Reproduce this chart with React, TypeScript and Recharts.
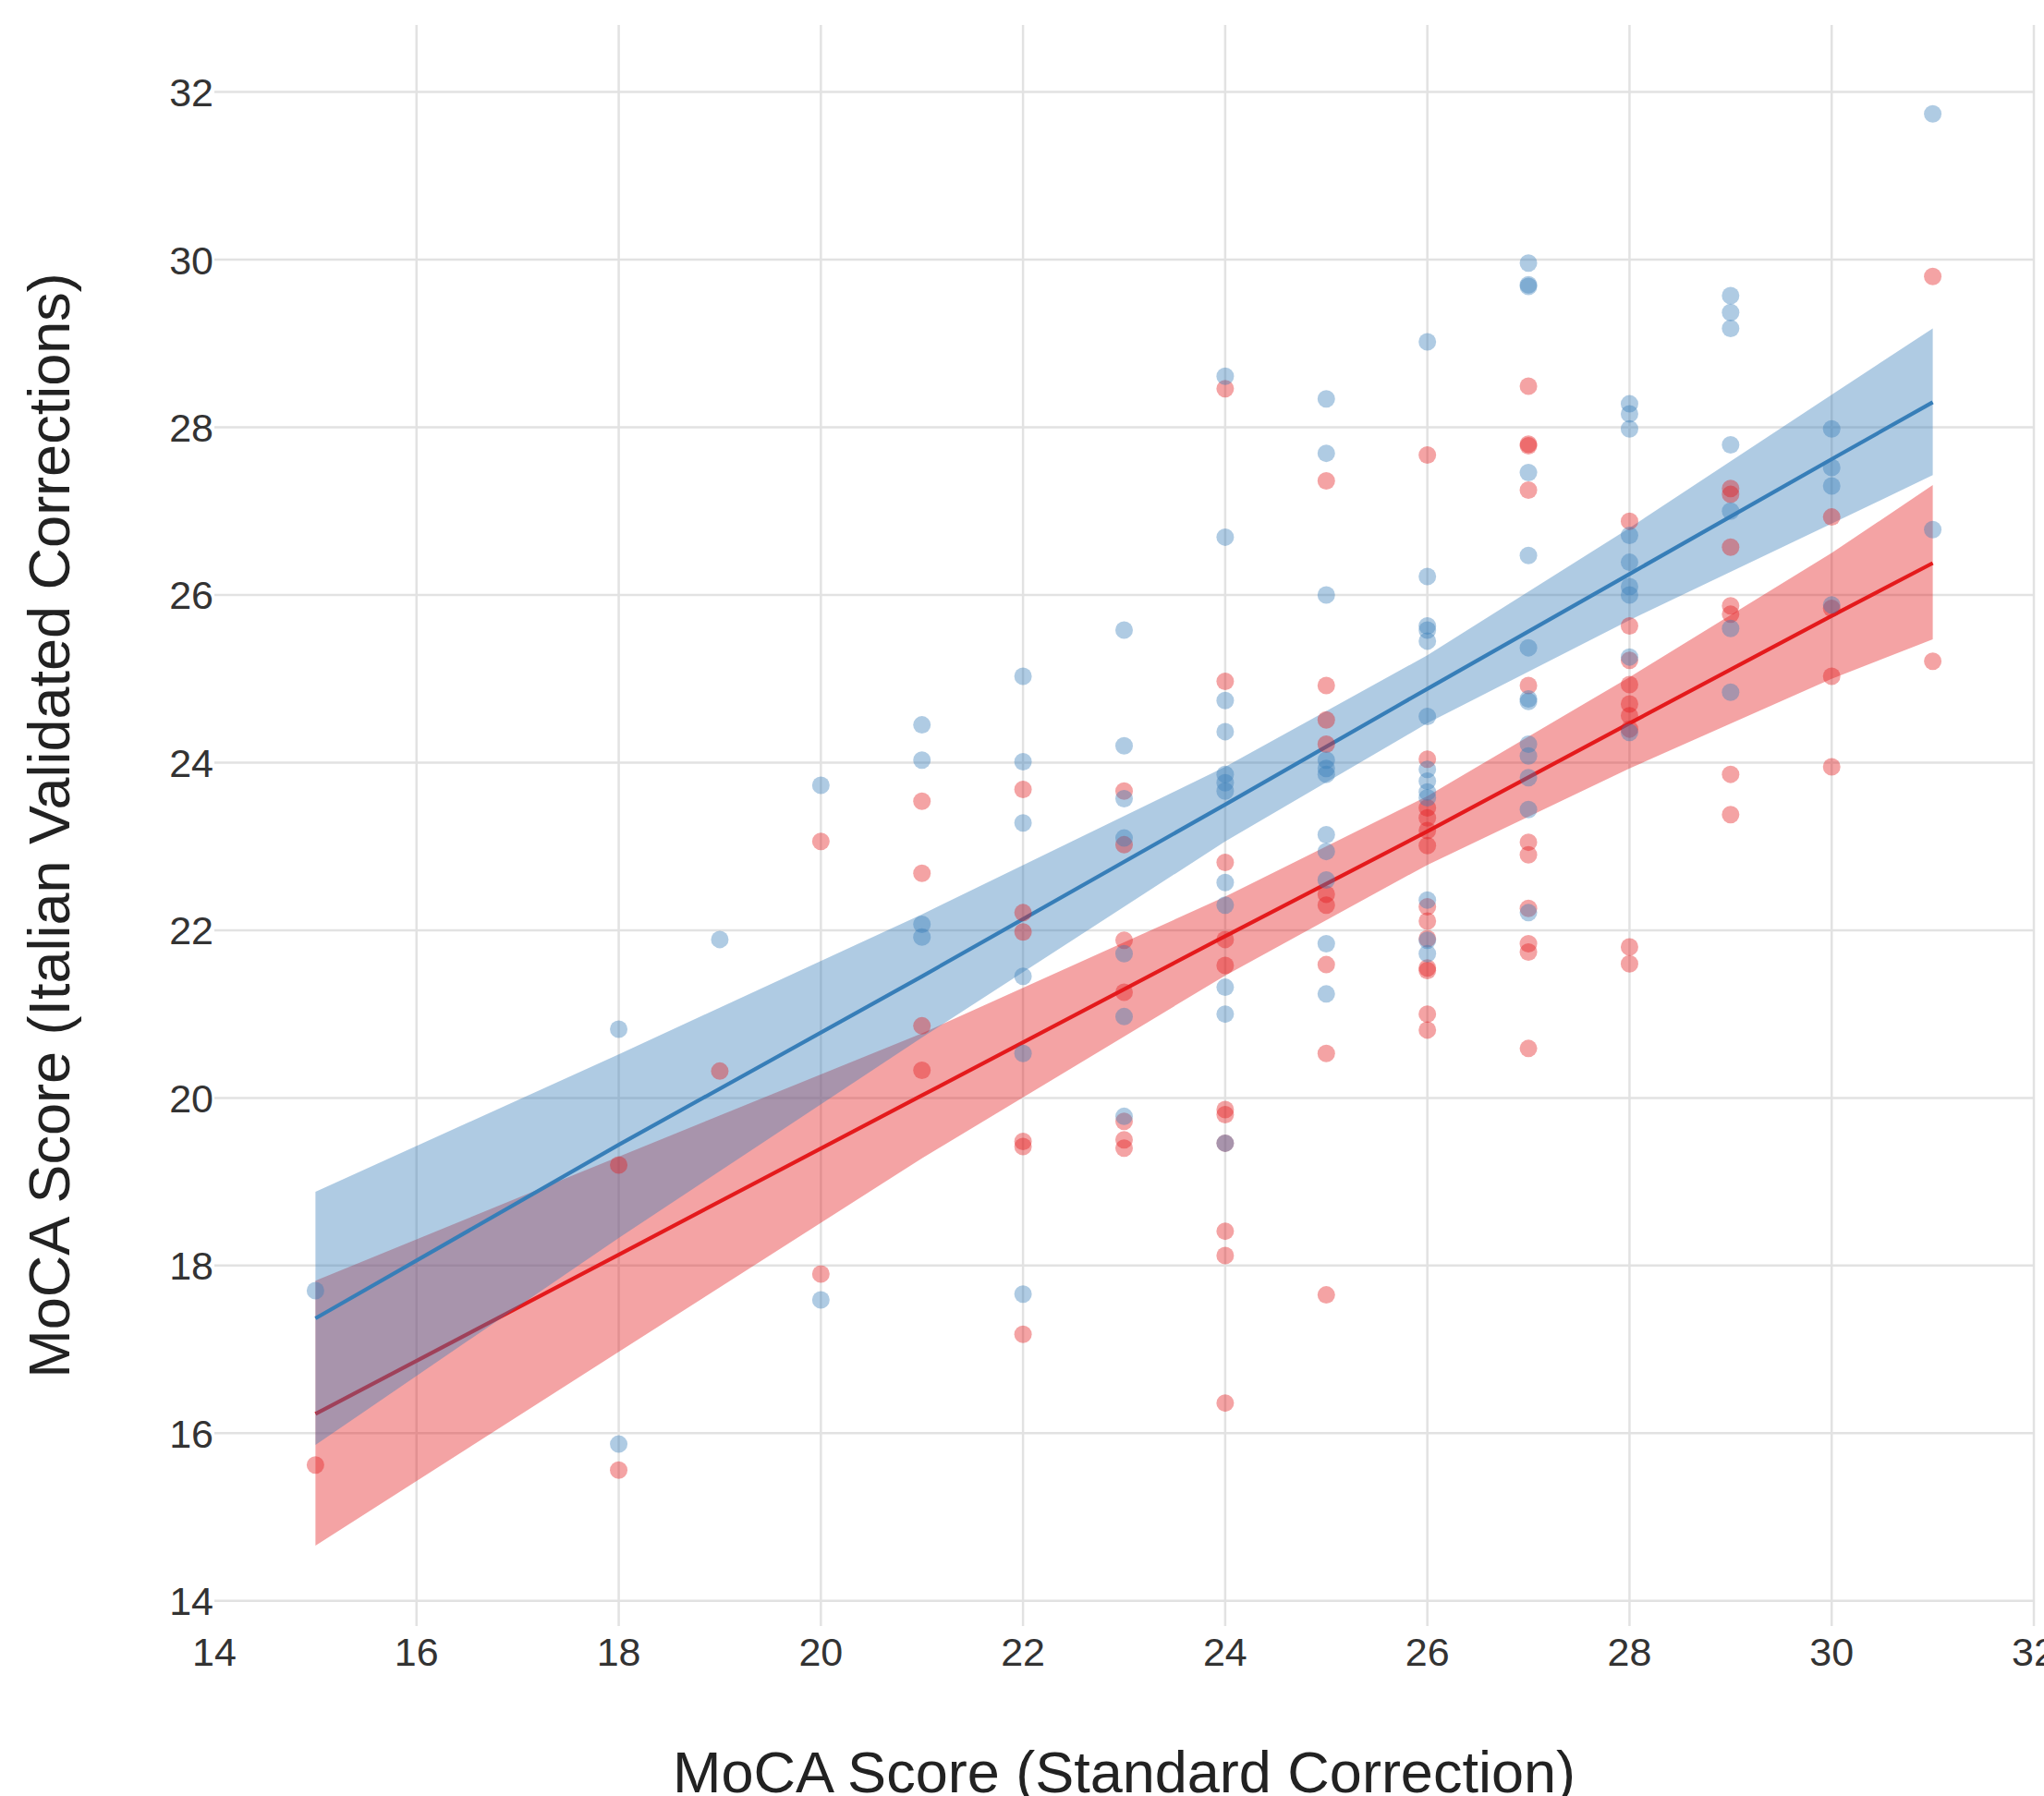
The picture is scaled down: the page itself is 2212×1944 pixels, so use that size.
import React from 'react';
import { ComposedChart, XAxis, YAxis, CartesianGrid, Area, Line, Scatter, Label } from 'recharts';

const BLUE = '#377eb8';
const RED = '#e41a1c';
const FONT = '"Liberation Sans", Arial, sans-serif';

const xTicks = [14, 16, 18, 20, 22, 24, 26, 28, 30, 32];
const yTicks = [14, 16, 18, 20, 22, 24, 26, 28, 30, 32];

const fitX = [15, 18, 21, 24, 26, 28, 30, 31];
const blueFit = [17.37, 19.44, 21.45, 23.5, 24.88, 26.25, 27.62, 28.3];
const blueLower = [15.86, 18.33, 20.72, 23.06, 24.47, 25.7, 26.85, 27.43];
const blueUpper = [18.88, 20.52, 22.19, 23.95, 25.28, 26.8, 28.39, 29.18];
const redFit = [16.23, 18.13, 20.03, 21.93, 23.18, 24.47, 25.75, 26.38];
const redLower = [14.66, 16.97, 19.28, 21.46, 22.78, 23.93, 25.0, 25.47];
const redUpper = [17.82, 19.3, 20.77, 22.4, 23.6, 25.02, 26.5, 27.31];

const bluePoints: [number, number][] = [
  [15, 17.7],
  [18, 20.82], [18, 15.87],
  [19, 21.89],
  [20, 23.73], [20, 17.59],
  [21, 24.45], [21, 24.03], [21, 22.07], [21, 21.92],
  [22, 25.03], [22, 24.01], [22, 23.28], [22, 21.45], [22, 20.53], [22, 17.66],
  [23, 25.58], [23, 24.2], [23, 23.57], [23, 23.1], [23, 21.72], [23, 20.97], [23, 19.78],
  [24, 28.61], [24, 26.69], [24, 24.74], [24, 24.37], [24, 23.86], [24, 23.76], [24, 23.66], [24, 22.57], [24, 22.3], [24, 21.32], [24, 21.0], [24, 19.46],
  [25, 28.34], [25, 27.69], [25, 26.0], [25, 24.03], [25, 23.93], [25, 23.86], [25, 23.14], [25, 22.94], [25, 22.6], [25, 21.84], [25, 21.24],
  [26, 29.02], [26, 26.22], [26, 25.63], [26, 25.58], [26, 25.45], [26, 24.55], [26, 23.92], [26, 23.78], [26, 23.65], [26, 23.58], [26, 22.36], [26, 21.88], [26, 21.72],
  [27, 29.96], [27, 29.7], [27, 29.68], [27, 27.46], [27, 26.47], [27, 25.37], [27, 24.76], [27, 24.73], [27, 24.22], [27, 24.08], [27, 23.82], [27, 23.44], [27, 22.21],
  [28, 28.28], [28, 28.16], [28, 27.98], [28, 26.71], [28, 26.39], [28, 26.1], [28, 26.0], [28, 25.26], [28, 24.36],
  [29, 29.57], [29, 29.37], [29, 29.18], [29, 27.79], [29, 27.0], [29, 25.6], [29, 24.84],
  [30, 27.98], [30, 27.52], [30, 27.3], [30, 25.88],
  [31, 31.74], [31, 26.78],
];

const redPoints: [number, number][] = [
  [15, 15.62],
  [18, 19.2], [18, 15.56],
  [19, 20.32],
  [20, 23.06], [20, 17.9],
  [21, 23.54], [21, 22.68], [21, 20.86], [21, 20.33],
  [22, 23.68], [22, 22.21], [22, 21.98], [22, 19.48], [22, 19.42], [22, 17.18],
  [23, 23.66], [23, 23.02], [23, 21.88], [23, 21.26], [23, 19.72], [23, 19.5], [23, 19.4],
  [24, 28.46], [24, 24.97], [24, 22.81], [24, 21.89], [24, 21.58], [24, 19.86], [24, 19.8], [24, 19.46], [24, 18.41], [24, 18.12], [24, 16.36],
  [25, 27.36], [25, 24.92], [25, 24.51], [25, 24.22], [25, 22.43], [25, 22.3], [25, 21.59], [25, 20.53], [25, 17.65],
  [26, 27.67], [26, 24.04], [26, 23.46], [26, 23.34], [26, 23.19], [26, 23.01], [26, 22.28], [26, 22.11], [26, 21.9], [26, 21.55], [26, 21.52], [26, 21.0], [26, 20.81],
  [27, 28.49], [27, 27.8], [27, 27.78], [27, 27.25], [27, 24.92], [27, 23.05], [27, 22.9], [27, 22.26], [27, 21.84], [27, 21.74], [27, 20.59],
  [28, 26.88], [28, 25.63], [28, 25.22], [28, 24.93], [28, 24.7], [28, 24.56], [28, 24.4], [28, 21.8], [28, 21.6],
  [29, 27.27], [29, 27.2], [29, 26.57], [29, 25.87], [29, 25.77], [29, 23.86], [29, 23.38],
  [30, 26.93], [30, 25.84], [30, 25.03], [30, 23.95],
  [31, 29.8], [31, 25.21],
];

const X_TITLE = 'MoCA Score (Standard Correction)';
const Y_TITLE = 'MoCA Score (Italian Validated Corrections)';

const blueBandData = fitX.map((x, i) => ({ x, band: [blueLower[i], blueUpper[i]] }));
const redBandData = fitX.map((x, i) => ({ x, band: [redLower[i], redUpper[i]] }));
const blueFitData = fitX.map((x, i) => ({ x, y: blueFit[i] }));
const redFitData = fitX.map((x, i) => ({ x, y: redFit[i] }));
const blueScatter = bluePoints.map(([x, y]) => ({ x, y }));
const redScatter = redPoints.map(([x, y]) => ({ x, y }));

const XTick = (props: any) => {
  const { x, y, payload } = props;
  return (
    <text x={x} y={y} dy={43} textAnchor="middle" fontSize={43} fontFamily={FONT} fill="#333">
      {payload.value}
    </text>
  );
};

const YTick = (props: any) => {
  const { x, y, payload } = props;
  return (
    <text x={x - 1} y={y} dy={15.5} textAnchor="end" fontSize={43} fontFamily={FONT} fill="#333">
      {payload.value}
    </text>
  );
};

const XTitle = (props: any) => {
  const vb = props.viewBox;
  return (
    <text x={vb.x + vb.width / 2} y={vb.y + 180} textAnchor="middle" fontSize={63} fontFamily={FONT} fill="#222">
      {X_TITLE}
    </text>
  );
};

const YTitle = (props: any) => {
  const vb = props.viewBox;
  const cx = 75;
  const cy = vb.y + vb.height / 2;
  return (
    <text x={cx} y={cy} transform={`rotate(-90, ${cx}, ${cy})`} textAnchor="middle" fontSize={63} fontFamily={FONT} fill="#222">
      {Y_TITLE}
    </text>
  );
};

const dot = (color: string) => (p: any) => (
  <circle cx={p.cx} cy={p.cy} r={9.5} fill={color} fillOpacity={0.4} />
);

export default function App() {
  return (
    <div style={{ position: 'absolute', left: 0, top: 0, background: '#fff' }}>
      <ComposedChart width={2212} height={1944} margin={{ top: 27, right: 11, bottom: 0, left: 0 }}>
        <CartesianGrid
          stroke="#e2e2e2"
          strokeWidth={2.5}
          horizontalValues={yTicks}
          verticalValues={xTicks.filter((v) => v > 14)}
        />
        <XAxis
          type="number"
          dataKey="x"
          domain={[14, 32]}
          ticks={xTicks}
          interval={0}
          allowDataOverflow
          height={184}
          axisLine={false}
          tickLine={false}
          tickSize={0}
          tickMargin={0}
          tick={XTick}
        >
          <Label content={XTitle} />
        </XAxis>
        <YAxis
          type="number"
          domain={[13.7, 32.8]}
          ticks={yTicks}
          interval={0}
          allowDataOverflow
          width={232}
          axisLine={false}
          tickLine={false}
          tickSize={0}
          tickMargin={0}
          tick={YTick}
        >
          <Label content={YTitle} />
        </YAxis>
        <Area data={redBandData} dataKey="band" type="linear" stroke="none" fill={RED} fillOpacity={0.4} isAnimationActive={false} zIndex={100} />
        <Line data={redFitData} dataKey="y" type="linear" stroke={RED} strokeWidth={4.2} dot={false} isAnimationActive={false} zIndex={110} />
        <Area data={blueBandData} dataKey="band" type="linear" stroke="none" fill={BLUE} fillOpacity={0.4} isAnimationActive={false} zIndex={120} />
        <Line data={blueFitData} dataKey="y" type="linear" stroke={BLUE} strokeWidth={4.2} dot={false} isAnimationActive={false} zIndex={130} />
        <Scatter data={redScatter} dataKey="y" shape={dot(RED)} isAnimationActive={false} zIndex={140} />
        <Scatter data={blueScatter} dataKey="y" shape={dot(BLUE)} isAnimationActive={false} zIndex={150} />
      </ComposedChart>
    </div>
  );
}
